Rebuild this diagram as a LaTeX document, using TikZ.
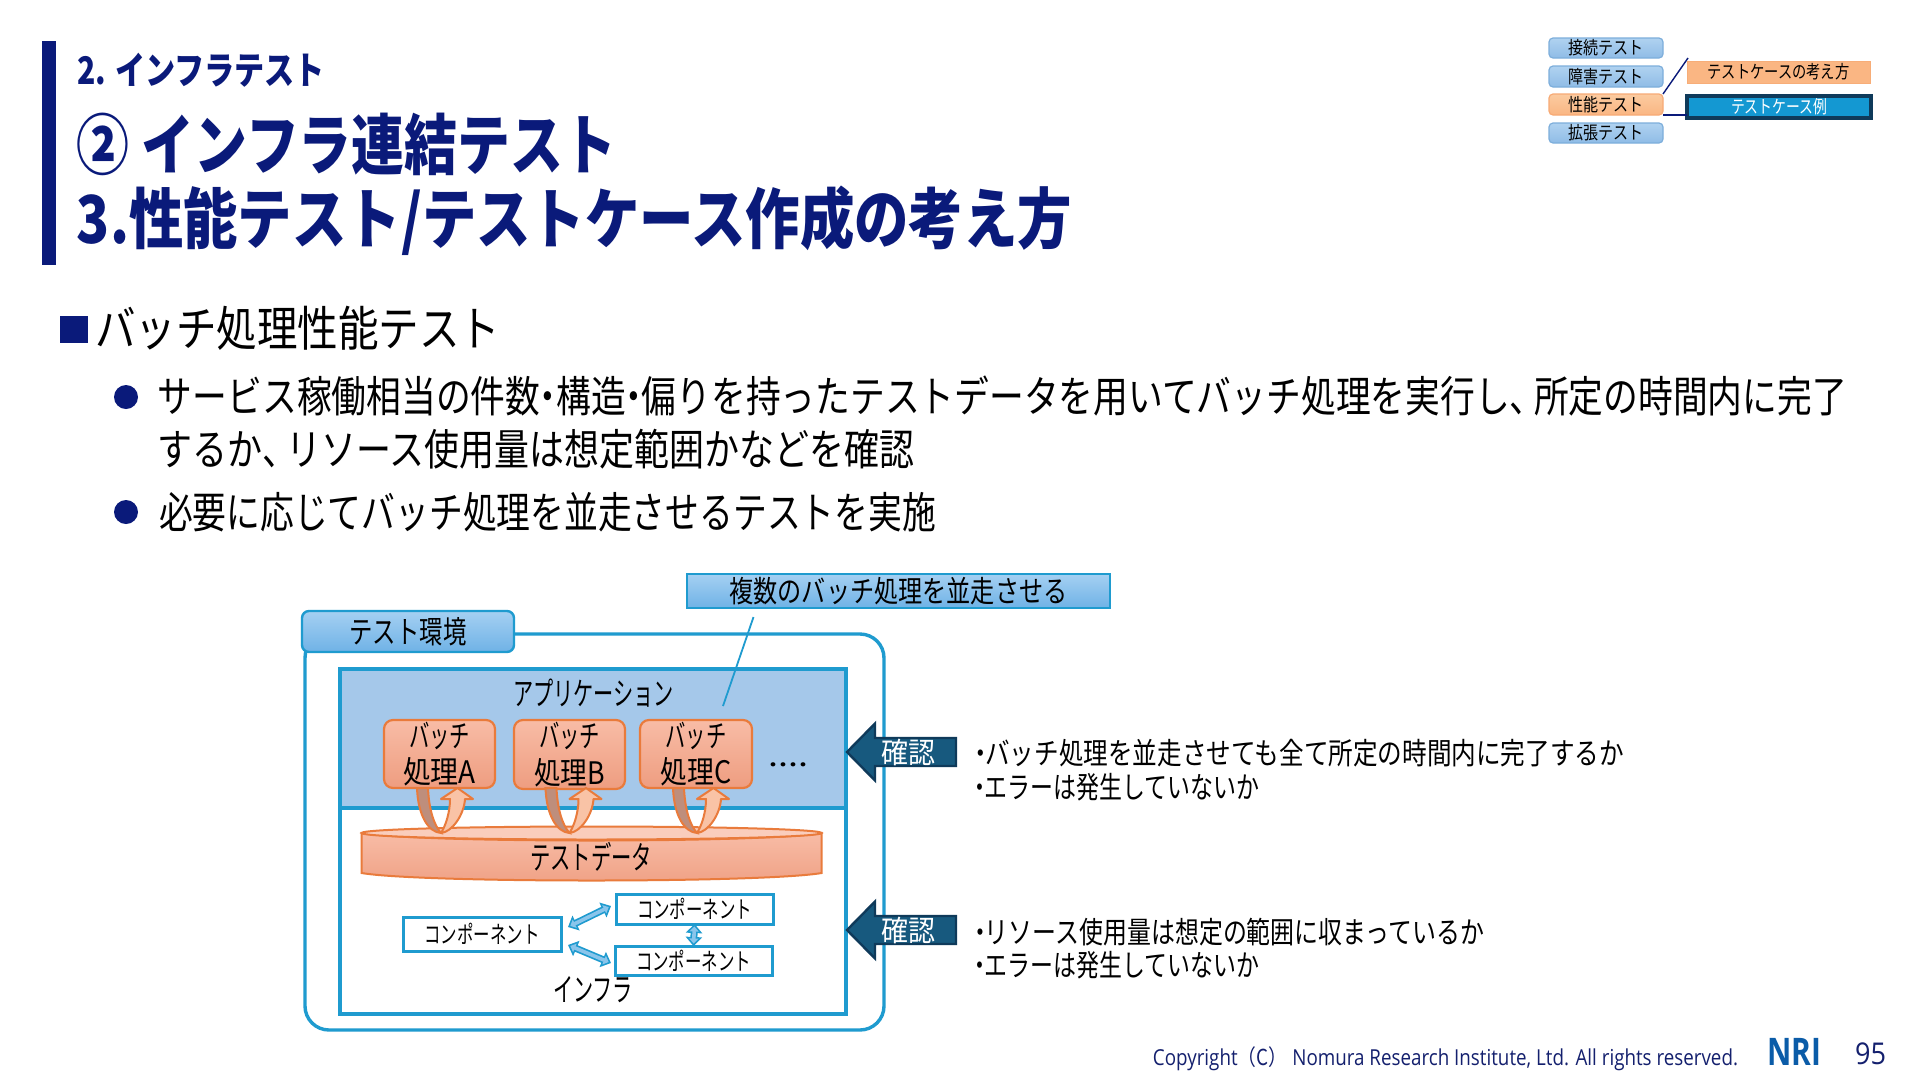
\documentclass[tikz,border=0pt]{standalone}
\usepackage{graphicx}
\usepackage{fontspec}
\setmainfont{Noto Sans CJK JP}
\newfontfamily\latinf{Open Sans}
\newfontfamily\cjkf{Noto Sans CJK JP}
\usetikzlibrary{arrows.meta,calc}
\definecolor{navy}{HTML}{0A1A7A}
\definecolor{ftnavy}{HTML}{14206E}
\definecolor{edgeblue}{HTML}{1F9BCF}
\definecolor{appblue}{HTML}{A5C8EA}
\definecolor{tabtop}{HTML}{A5D0F2}
\definecolor{tabbot}{HTML}{6FB2E6}
\definecolor{orng}{HTML}{E97B3C}
\definecolor{battop}{HTML}{F8BCA6}
\definecolor{batbot}{HTML}{EE9D80}
\definecolor{dkarrow}{HTML}{17597E}
\definecolor{dkedge}{HTML}{0F3A5A}
\definecolor{navtop}{HTML}{B0D2F0}
\definecolor{navbot}{HTML}{8FBCE6}
\definecolor{navedge}{HTML}{7DAEDB}
\definecolor{navotop}{HTML}{FBCBA0}
\definecolor{navobot}{HTML}{FAB683}
\definecolor{logoblue}{HTML}{0B5CA8}
\definecolor{ubrown}{HTML}{BE8E7C}
\definecolor{ulight}{HTML}{F9C3A6}
\definecolor{selblue}{HTML}{1498D2}
\newcommand\dt{\kern-.27em・\kern-.27em}
\newcommand\ldt{\kern-.2em・\kern-.3em}
\newcommand\cm{、\kern-.3em}
\newcommand\tw[3]{\resizebox{#1pt}{\height}{\fontsize{#2}{#2}\selectfont #3}}
% name, style, x1, y1, x2, y2, text
\newcommand\bx[7]{\node[#2,minimum width={(#5-#3)*1pt},minimum height={(#6-#4)*1pt}] (#1) at ({(#3+#5)/2},{(#4+#6)/2}) {#7};}
% name, style, x1, x2, cy, size, text
\newcommand\tx[7]{\node[txt,#2] (#1) at ({(#3+#4)/2},#5) {\tw{\the\numexpr#4-#3\relax}{#6}{#7}};}
\newcommand\uarrow[1]{\begin{scope}[shift={(#1,0)}]
 \draw[orng,line width=2,fill=ubrown] (417,788) .. controls (418,815) and (428,832) .. (441,833) .. controls (434,825) and (429,810) .. (428,788) -- cycle;
 \draw[orng,line width=2,fill=ulight,line join=round] (441,833) .. controls (452,832) and (464,815) .. (465,799) -- (473,799) -- (457.5,788) -- (441,799) -- (450,799) .. controls (450,812) and (446,825) .. (441,833) -- cycle;
\end{scope}}
\newcommand\dbl[2]{\draw[edgeblue,line width=7,{Triangle[length=9,width=16]}-{Triangle[length=9,width=16]}] #1 -- #2;
 \draw[tabtop!80!edgeblue,line width=3.6,shorten <=2.5,shorten >=2.5,{Triangle[length=5,width=9]}-{Triangle[length=5,width=9]}] #1 -- #2;}
\newcommand\confirm[3]{\draw[dkedge,line width=2.4,fill=dkarrow,line join=miter] (847,#1) -- (875,#1-28.5) -- (875,#1-14) -- (956,#1-14) -- (956,#1+14) -- (875,#1+14) -- (875,#1+28.5) -- cycle;
 \tx{#2}{text=white}{881}{935}{#1}{29}{#3}}
\tikzset{
 x=1pt,y=-1pt,
 txt/.style={inner sep=0,outer sep=0,text=black,anchor=center},
 ttl/.style={txt,text=navy,font=\bfseries},
 bod/.style={txt,text=black},
 plain/.style={inner sep=0,outer sep=0,anchor=center},
 bluegrad/.style={plain,draw=edgeblue,line width=2.4,top color=tabtop,bottom color=tabbot},
 batch/.style={plain,draw=orng,line width=2.2,rounded corners=9,top color=battop,bottom color=batbot,align=center},
 comp/.style={plain,draw=edgeblue,line width=3,fill=white},
 navb/.style={plain,draw=navedge,line width=1.2,rounded corners=4,top color=navtop,bottom color=navbot},
 navo/.style={plain,draw=navobot!80!orng,line width=1.2,rounded corners=4,top color=navotop,bottom color=navobot},
 navr/.style={plain,draw=navobot!85!orng,line width=1,fill=navobot},
 navs/.style={plain,draw=dkedge,line width=3.2,fill=selblue,text=white},
 navl/.style={navy,line width=1.4},
}
\begin{document}
\begin{tikzpicture}
\useasboundingbox (0,0) rectangle (1920,1080);
\fill[white] (0,0) rectangle (1920,1080);
% title block
\fill[navy] (42,41) rectangle (56,265);
\tx{tsub}{ttl}{77}{325}{70}{38}{2. インフラテスト}
\tx{tone}{ttl}{77}{616}{144}{66}{② インフラ連結テスト}
\tx{ttwo}{ttl}{77}{1072}{221}{66}{3.性能テスト/テストケース作成の考え方}
% body
\fill[navy] (60,316) rectangle (88,343);
\tx{head}{bod}{95}{500}{328}{48}{バッチ処理性能テスト}
\fill[navy] (126,397) circle (12);
\tx{bl1}{bod}{158}{1847}{396}{43}{サービス稼働相当の件数\dt 構造\dt 偏りを持ったテストデータを用いてバッチ処理を実行し\cm 所定の時間内に完了}
\tx{bl2}{bod}{158}{914}{449}{43}{するか\cm リソース使用量は想定範囲かなどを確認}
\fill[navy] (126,512) circle (12);
\tx{bl3}{bod}{159}{936}{512}{43}{必要に応じてバッチ処理を並走させるテストを実施}
% diagram
\bx{outer}{plain,draw=edgeblue,line width=3.4,rounded corners=24,fill=white}{305}{634}{884}{1030}{}
\bx{app}{plain,draw=edgeblue,line width=3.4,fill=appblue}{340}{669}{846}{808}{}
\bx{infra}{plain,draw=edgeblue,line width=3.4,fill=white}{340}{808}{846}{1014}{}
\bx{tab}{bluegrad,rounded corners=7}{302}{611}{514}{652}{\tw{117}{31}{テスト環境}}
\bx{call}{bluegrad}{687}{574}{1110}{608}{\tw{338}{30}{複数のバッチ処理を並走させる}}
\tx{tapp}{}{513}{674}{693}{32}{アプリケーション}
\coordinate (ca) at (753.5,617);
\coordinate (cb) at (723,706);
\draw[edgeblue,line width=1.8] (ca) -- (cb);
\bx{ba}{batch}{384}{720}{495}{788}{\tw{61}{31}{バッチ}\\[7pt]\tw{73}{31}{処理A}}
\bx{bb}{batch}{514}{720}{625}{789}{\tw{61}{31}{バッチ}\\[7pt]\tw{71}{31}{処理B}}
\bx{bc}{batch}{640}{720}{752}{788}{\tw{61}{31}{バッチ}\\[7pt]\tw{71}{31}{処理C}}
\node[txt,anchor=base] (dots) at (788,766) {\tw{40}{30}{....}};
% cylinder
\draw[orng,line width=2,top color=battop,bottom color=batbot!85!battop] (361.6,833) -- (361.6,873) .. controls (420,883) and (763,883) .. (821.6,873) -- (821.6,833) .. controls (763,843) and (420,843) .. (361.6,833) -- cycle;
\draw[orng,line width=2,fill=battop!75!white] (591.6,833) ellipse (230 and 6.5);
\tx{tdata}{}{530}{652}{857}{32}{テストデータ}
\uarrow{0}
\uarrow{128.5}
\uarrow{256}
% components
\bx{cl}{comp}{403}{917}{561}{951}{\tw{115}{24}{コンポーネント}}
\bx{ct}{comp}{616}{894}{773}{924}{\tw{115}{24}{コンポーネント}}
\bx{cr}{comp}{615}{946}{772}{975}{\tw{115}{24}{コンポーネント}}
\dbl{([shift={(7,-7)}]cl.east)}{([shift={(-5,-3)}]ct.west)}
\dbl{([shift={(7,11)}]cl.east)}{([shift={(-4,2.5)}]cr.west)}
\dbl{(ct.south)}{(cr.north)}
\tx{tinf}{}{553}{633}{990}{32}{インフラ}
% confirm arrows
\confirm{752}{cfa}{確認}
\confirm{930}{cfb}{確認}
\tx{ra}{}{973}{1624}{753}{30}{\ldt バッチ処理を並走させても全て所定の時間内に完了するか}
\tx{rb}{}{973}{1259}{787}{30}{\ldt エラーは発生していないか}
\tx{rc}{}{973}{1484}{932}{30}{\ldt リソース使用量は想定の範囲に収まっているか}
\tx{rd}{}{973}{1259}{965}{30}{\ldt エラーは発生していないか}
% navigation
\bx{n1}{navb}{1549}{38}{1663}{58}{\tw{75}{18}{接続テスト}}
\bx{n2}{navb}{1549}{66}{1663}{87}{\tw{75}{18}{障害テスト}}
\bx{n3}{navo}{1549}{94}{1663}{115}{\tw{75}{18}{性能テスト}}
\bx{n4}{navb}{1549}{123}{1663}{143}{\tw{75}{18}{拡張テスト}}
\bx{m1}{navr}{1687}{61}{1870}{83}{\tw{142}{18}{テストケースの考え方}}
\bx{m2}{navs}{1687}{96}{1871}{118}{\tw{96}{18}{テストケース例}}
\coordinate (mt) at (1688,58);
\draw[navl] (n3.north east) -- (mt);
\draw[navl] (n3.south east) -- (n3.south east -| m2.west);
% footer
\node[txt,text=ftnavy] (copy) at (1445.5,1059) {\tw{585}{22}{\latinf Copyright{\cjkf（C）}\hspace{6pt}Nomura Research Institute, Ltd. All rights reserved.}};
\node[txt,text=logoblue] (logo) at (1794,1052) {\tw{54}{38}{\latinf\bfseries NRI}};
\node[txt,text=ftnavy] (pg) at (1870.5,1054) {\tw{31}{30}{\latinf 95}};
\end{tikzpicture}
\end{document}
